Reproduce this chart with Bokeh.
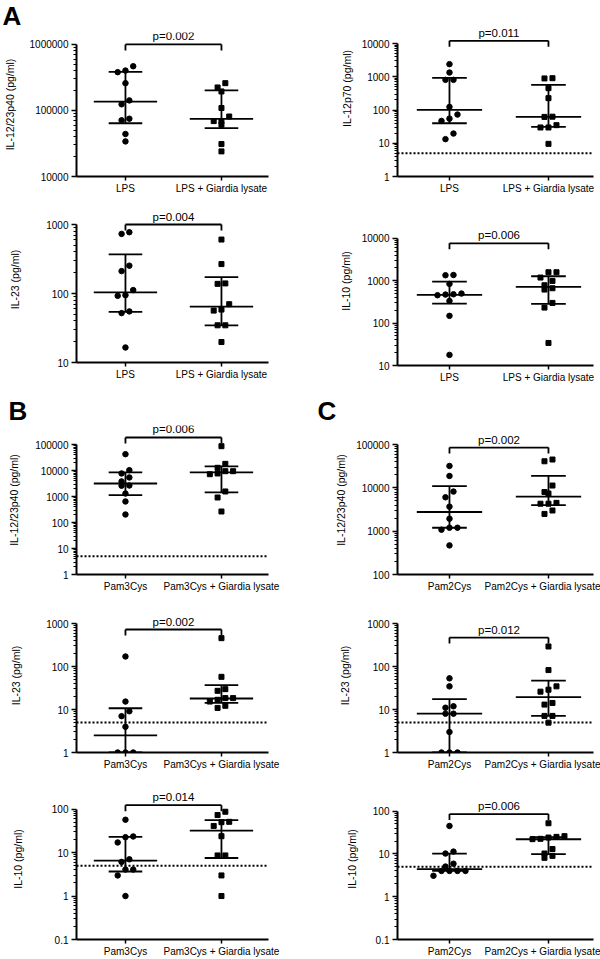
import math
from bokeh.plotting import figure
from bokeh.models import Range1d, FixedTicker, CustomJSTickFormatter, Span
from bokeh.layouts import column, row
from bokeh.embed import file_html
from bokeh.resources import INLINE
from bokeh.core.properties import value

FONT = "Liberation Sans"

# ---------------- data ----------------
cats_lps = ["LPS", "LPS + Giardia lysate"]
cats_p3 = ["Pam3Cys", "Pam3Cys + Giardia lysate"]
cats_p2 = ["Pam2Cys", "Pam2Cys + Giardia lysate"]

# A: LPS
a1_ctrl = [467000, 402000, 380000, 259000, 142000, 124000, 75000, 71000, 44000, 34000]
a1_gia = [259000, 223000, 194000, 109000, 81000, 69000, 69000, 61000, 31000, 24000]
a1_median = [136000, 74500]
a1_q1 = [64000, 54000]
a1_q3 = [384000, 201000]

a2_ctrl = [2390, 1340, 807, 807, 124, 73, 55, 47, 19.6, 13.3]
a2_gia = [906, 890, 454, 227, 62, 63, 35, 29.8, 29.8, 9.6]
a2_median = [101, 62]
a2_q1 = [40, 31]
a2_q3 = [927, 571]

a3_ctrl = [773, 731, 253, 211, 112, 94.6, 92.5, 55, 52, 16.5]
a3_gia = [605, 267, 140, 138, 70, 58.5, 56.5, 34.6, 34.6, 19.8]
a3_median = [103.5, 64.7]
a3_q1 = [54, 34.6]
a3_q3 = [370, 173]

a4_ctrl = [1360, 1343, 840, 497, 478, 470, 454, 333, 148, 17.8]
a4_gia = [1582, 1582, 1184, 986, 780, 663, 617, 299, 232, 34]
a4_median = [463, 713]
a4_q1 = [288, 283]
a4_q3 = [953, 1270]

# B: Pam3Cys
b1_ctrl = [42500, 10300, 7700, 5400, 3800, 2650, 2600, 1300, 643, 203]
b1_gia = [86000, 18000, 12700, 9400, 9400, 7700, 7200, 1560, 916, 265]
b1_median = [3160, 8400]
b1_q1 = [1125, 1430]
b1_q3 = [8400, 14300]

b2_ctrl = [171, 15.3, 9.1, 7.0, 3.95, 1, 1, 1]
b2_gia = [456, 57.5, 29.7, 27.2, 18.4, 18.4, 16.8, 15.3, 12.2, 10.9]
b2_median = [2.5, 18]
b2_q1 = [1, 14.3]
b2_q3 = [10.7, 36.8]

b3_ctrl = [57, 23.5, 22.6, 17.1, 7.0, 6.1, 4.07, 4.07, 2.98, 1.0]
b3_gia = [87, 73, 51, 50, 41, 23.8, 8.6, 8.6, 2.98, 1.0]
b3_median = [6.5, 32]
b3_q1 = [3.67, 7.5]
b3_q3 = [23, 56]

# C: Pam2Cys
c1_ctrl = [32000, 18800, 8200, 6050, 3680, 1940, 1200, 1200, 1080, 470]
c1_gia = [45000, 41000, 11300, 8000, 7400, 4500, 4300, 4300, 3000, 2500]
c1_median = [2770, 6270]
c1_q1 = [1200, 4000]
c1_q3 = [10900, 18800]

c2_ctrl = [53, 34.5, 11.9, 11, 8.0, 8.0, 3.0, 1, 1, 1]
c2_gia = [292, 82.6, 34.5, 28.9, 26, 14.2, 13, 7.1, 7.1, 4.95]
c2_median = [8.0, 19.5]
c2_q1 = [1, 7.1]
c2_q3 = [17.5, 46.8]

c3_ctrl = [45, 11.3, 10.2, 5.9, 5.06, 4.0, 4.0, 4.0, 4.0, 3.08]
c3_gia = [52, 26, 25, 24.1, 22.5, 22.1, 13, 10.2, 9.0, 8.1]
c3_median = [4.4, 22]
c3_q1 = [4.0, 9.9]
c3_q3 = [10.2, 24.5]

y_labels = ["IL-12/23p40 (pg/ml)", "IL-12p70 (pg/ml)", "IL-23 (pg/ml)", "IL-10 (pg/ml)",
            "IL-12/23p40 (pg/ml)", "IL-12/23p40 (pg/ml)", "IL-23 (pg/ml)", "IL-23 (pg/ml)",
            "IL-10 (pg/ml)", "IL-10 (pg/ml)"]
p_values = ["p=0.002", "p=0.011", "p=0.004", "p=0.006", "p=0.006", "p=0.002",
            "p=0.002", "p=0.012", "p=0.014", "p=0.006"]
bracket_y = [1e6, 1.2e4, 1000, 7600, 1.86e5, 8.5e4, 725, 470, 123, 85]
y_lo = [1e4, 1, 10, 10, 1, 100, 1, 1, 0.1, 0.1]
y_hi = [1e6, 1e4, 1000, 1e4, 1e5, 1e5, 1000, 1000, 100, 100]
detection_limit = [None, 5, None, None, 5, None, 5, 5, 5, 5]
panel_letters = {0: "A", 4: "B", 5: "C"}

# ---------------- layout (page pixels) ----------------
# side, fig_top, fig_h, top border, top tick px, bottom px, y-label centre x
layout = [
    ("L", 0, 196, 31, 43, 176, 9),
    ("R", 0, 196, 0, 43, 176, 352),
    ("L", 196, 189, 0, 224, 362, 14),
    ("R", 196, 189, 0, 238, 366, 351),
    ("L", 385, 213, 40, 444, 574, 13),
    ("R", 385, 213, 40, 444, 574, 346),
    ("L", 598, 180, 0, 623, 752, 15),
    ("R", 598, 180, 0, 623, 752, 350),
    ("L", 778, 181, 0, 809, 941, 17),
    ("R", 778, 181, 0, 811, 941, 357),
]
# letter page x (target) and vertical anchoring
letter_pos = {0: (-4, "top"), 4: (2, "bottom"), 5: (317, "bottom")}

PPU = 99.0


def swarm(vals, ppd, thr=6.5, step=8.0):
    order = sorted(range(len(vals)), key=lambda i: -vals[i])
    py = {i: -math.log10(vals[i]) * ppd for i in order}
    rows = []
    for i in order:
        if rows and py[i] - py[rows[-1][0]] <= thr:
            rows[-1].append(i)
        else:
            rows.append([i])
    offs = [0.0] * len(vals)
    for r in rows:
        rs = sorted(r, key=lambda i: vals[i])
        n = len(rs)
        for k, i in enumerate(rs):
            offs[i] = (k - (n - 1) / 2) * step / PPU
    return offs


def label_w(s):
    return sum(5.56 if c.isdigit() else 2.78 for c in s)


def make_panel(idx, cats, ctrl, gia, med, q1, q3):
    side, fig_top, fig_h, border_top, top_px, bot_px, lab_cx = layout[idx]
    if side == "L":
        fig_left, W, fl, fw, x0 = 0, 300, 70, 198, 0.49
    else:
        fig_left, W, fl, fw, x0 = 300, 300, 97, 196, 0.475
    frame_top = fig_top + border_top
    x1 = x0 + fw / PPU
    lo, hi = y_lo[idx], y_hi[idx]
    ndec = math.log10(hi) - math.log10(lo)
    ppd = (bot_px - top_px) / ndec
    hi_ext = hi * 10 ** ((top_px - frame_top) / ppd)

    p = figure(width=W, height=fig_h, y_axis_type="log",
               x_range=Range1d(x0, x1), y_range=Range1d(lo, hi_ext),
               output_backend="svg", toolbar_location=None,
               min_border_left=fl, min_border_right=W - fl - fw,
               min_border_top=border_top, min_border_bottom=fig_top + fig_h - bot_px)
    p.grid.visible = False
    p.outline_line_color = None
    p.background_fill_color = "white"
    p.border_fill_color = "white"

    if idx in panel_letters:
        letter_x, valign = letter_pos[idx]
        p.title.text = panel_letters[idx]
        p.title.align = "left"
        p.title.vertical_align = valign
        p.title.offset = letter_x - (fig_left + fl)
        p.title.standoff = 0
        p.title.text_font = FONT
        p.title.text_font_size = "26px"
        p.title.text_font_style = "bold"
        p.title.text_color = "black"

    kmin, kmax = round(math.log10(lo)), round(math.log10(hi))
    decs = [10.0 ** k if k < 0 else 10 ** k for k in range(kmin, kmax + 1)]
    minors = [m * d for d in decs[:-1] for m in range(2, 10)]
    yax = p.yaxis[0]
    yax.ticker = FixedTicker(ticks=decs, minor_ticks=minors)
    yax.formatter = CustomJSTickFormatter(code="return String(Number(tick.toPrecision(6)));")
    yax.bounds = (lo, hi)
    yax.axis_label = y_labels[idx]
    yax.axis_label_text_font = FONT
    yax.axis_label_text_font_size = "10.5px"
    yax.axis_label_text_font_style = "normal"
    yax.axis_label_text_color = "black"
    wmax = max(label_w(str(d) if d >= 1 else "0.1") for d in decs)
    als = (fig_left + fl) - 5 - 3 - wmax - 3.5 - lab_cx
    yax.axis_label_standoff = int(max(0, round(als)))
    yax.major_tick_out = 5
    yax.major_tick_in = 0
    yax.minor_tick_out = 3
    yax.minor_tick_in = 0
    yax.major_label_standoff = 3

    xax = p.xaxis[0]
    xax.ticker = FixedTicker(ticks=[1, 2])
    xax.major_label_overrides = {1: cats[0], 2: cats[1]}
    xax.major_tick_out = 4
    xax.major_tick_in = 0
    xax.major_label_standoff = 2
    xax.minor_tick_line_color = None

    for ax in (xax, yax):
        ax.axis_line_width = 2
        ax.axis_line_color = "black"
        ax.major_tick_line_color = "black"
        ax.major_tick_line_width = 1.5
        ax.minor_tick_line_width = 1
        ax.major_label_text_font = FONT
        ax.major_label_text_font_size = "10px"
        ax.major_label_text_color = "black"
    yax.minor_tick_line_color = "black"

    # detection limit
    if detection_limit[idx] is not None:
        p.add_layout(Span(location=detection_limit[idx], dimension="width",
                          line_color="black", line_width=2, line_dash="2 2"))

    # median + IQR
    for c, m, a, b in zip([1, 2], med, q1, q3):
        p.segment(x0=[c - 0.33], x1=[c + 0.33], y0=[m], y1=[m], line_color="black", line_width=1.8)
        p.segment(x0=[c - 0.175, c - 0.175], x1=[c + 0.175, c + 0.175], y0=[a, b], y1=[a, b],
                  line_color="black", line_width=1.8)
        p.segment(x0=[c], x1=[c], y0=[a], y1=[b], line_color="black", line_width=1.8)

    # points
    o1 = swarm(ctrl, ppd)
    o2 = swarm(gia, ppd)
    p.scatter(x=[1 + o for o in o1], y=ctrl, marker="circle", size=5.5,
              fill_color="black", line_color="black")
    p.scatter(x=[2 + o for o in o2], y=gia, marker="square", size=5,
              fill_color="black", line_color="black")

    # bracket and p-value
    by = bracket_y[idx]
    be = by * 10 ** (-6 / ppd)
    p.segment(x0=[1, 1, 2], x1=[2, 1, 2], y0=[by, by, by], y1=[by, be, be],
              line_color="black", line_width=1.8)
    p.text(x=[1.5], y=[by], text=[p_values[idx]], text_align="center", text_baseline="bottom",
           y_offset=-2, text_font=value(FONT), text_font_size="11.5px", text_color="black")
    return p


panels = [
    make_panel(0, cats_lps, a1_ctrl, a1_gia, a1_median, a1_q1, a1_q3),
    make_panel(1, cats_lps, a2_ctrl, a2_gia, a2_median, a2_q1, a2_q3),
    make_panel(2, cats_lps, a3_ctrl, a3_gia, a3_median, a3_q1, a3_q3),
    make_panel(3, cats_lps, a4_ctrl, a4_gia, a4_median, a4_q1, a4_q3),
    make_panel(4, cats_p3, b1_ctrl, b1_gia, b1_median, b1_q1, b1_q3),
    make_panel(5, cats_p2, c1_ctrl, c1_gia, c1_median, c1_q1, c1_q3),
    make_panel(6, cats_p3, b2_ctrl, b2_gia, b2_median, b2_q1, b2_q3),
    make_panel(7, cats_p2, c2_ctrl, c2_gia, c2_median, c2_q1, c2_q3),
    make_panel(8, cats_p3, b3_ctrl, b3_gia, b3_median, b3_q1, b3_q3),
    make_panel(9, cats_p2, c3_ctrl, c3_gia, c3_median, c3_q1, c3_q3),
]

# two independent columns so that frames are not aligned across a row
page = row(column(*panels[0::2]), column(*panels[1::2]))
open("out.html", "w").write(file_html(page, INLINE))
